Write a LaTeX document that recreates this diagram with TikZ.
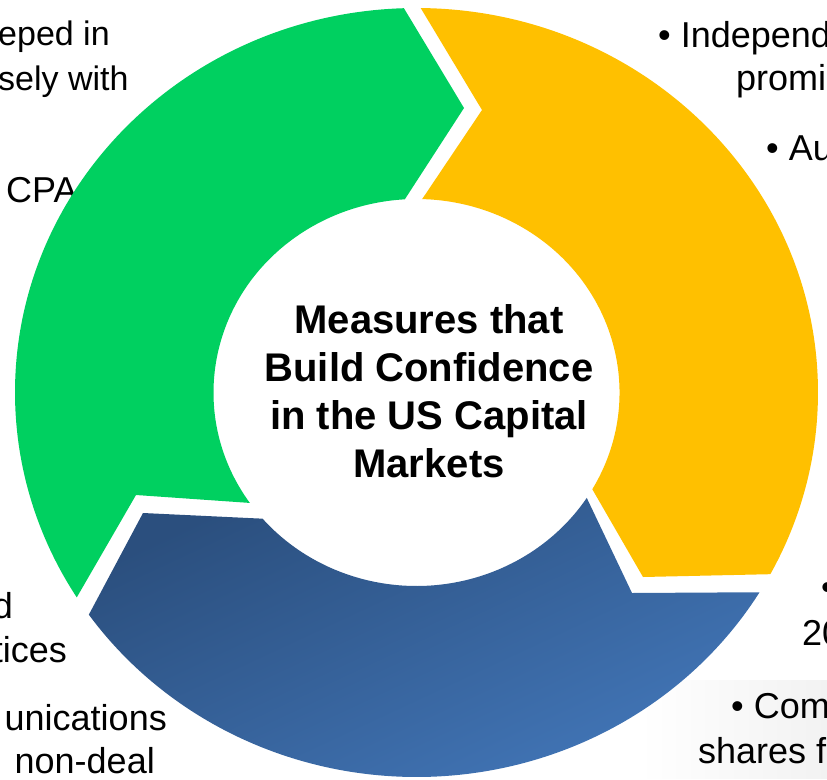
\documentclass[tikz,border=0pt]{standalone}
\usepackage{fontspec}
\setmainfont{Liberation Sans}
\usetikzlibrary{calc,fadings}
\definecolor{segGreen}{RGB}{0,208,96}
\definecolor{segGold}{RGB}{255,192,0}
\definecolor{segNavy}{RGB}{43,79,126}
\definecolor{segSky}{RGB}{66,118,184}
\begin{document}
\begin{tikzpicture}[x=1pt,y=-1pt,
  side/.style={anchor=base west, inner sep=0pt, font=\fontsize{36}{43}\selectfont},
  sideend/.style={side, anchor=base east},
  hub/.style={align=center, inner sep=0pt, font=\bfseries\fontsize{40}{48}\selectfont}]
\useasboundingbox (0,0) rectangle (827,779);
\clip (0,0) rectangle (827,779);
\coordinate (C) at (416.5,392.5);

% faint backdrop behind the lower right notes
\fill[black!5, path fading=west] (640,680) rectangle (827,779);

% notes around the ring (running off the edges)
\node[side, font=\fontsize{34}{41}\selectfont] (tl1) at (-2,45) {eped in};
\node[side, font=\fontsize{34}{41}\selectfont] (tl2) at (-2,90) {sely with};
\node[side] (tl3) at (6,202) {CPA};
\node[side] (tr1) at (658,47) {• Independ};
\node[side] (tr2) at (736,90) {promi};
\node[side] (tr3) at (766,160) {• Au};
\node[side] (br1) at (821,599) {•};
\node[side] (br2) at (802,645) {20};
\node[side] (br3) at (731,718) {• Com};
\node[side] (br4) at (698,763) {shares f};
\node[sideend] (bl1) at (13,618) {d};
\node[sideend] (bl2) at (67,662) {tices};
\node[sideend] (bl3) at (167,730) {unications};
\node[sideend] (bl4) at (155,773) {non-deal};

% green segment: notch at lower left, head at top
\fill[segGreen] ($(C)+(268.2:401.5 and 384.5)$)
  arc[start angle=268.2, end angle=147.8, x radius=401.5, y radius=384.5]
  -- (136,495)
  -- ($(C)+(145.2:203 and 193.5)$)
  arc[start angle=145.2, end angle=266.7, x radius=203, y radius=193.5]
  -- (464,108) -- cycle;

% gold segment: notch at top, head at lower right
\fill[segGold] ($(C)+(270.6:401.5 and 384.5)$)
  arc[start angle=270.6, end angle=388.2, x radius=401.5, y radius=384.5]
  -- (643,577)
  -- ($(C)+(30:203 and 193.5)$)
  arc[start angle=30, end angle=-88.4, x radius=203, y radius=193.5]
  -- (482,110) -- cycle;

% blue segment: notch at lower right, head at lower left
\shade[top color=segNavy, bottom color=segSky, shading angle=25]
  ($(C)+(31.3:401.5 and 384.5)$)
  arc[start angle=31.3, end angle=144.7, x radius=401.5, y radius=384.5]
  -- (143,513)
  -- ($(C)+(139.3:203 and 193.5)$)
  arc[start angle=139.3, end angle=33, x radius=203, y radius=193.5]
  -- (632,593) -- cycle;

\node[hub] (title) at (429,391) {Measures that\\Build Confidence\\in the US Capital\\Markets};
\end{tikzpicture}
\end{document}
